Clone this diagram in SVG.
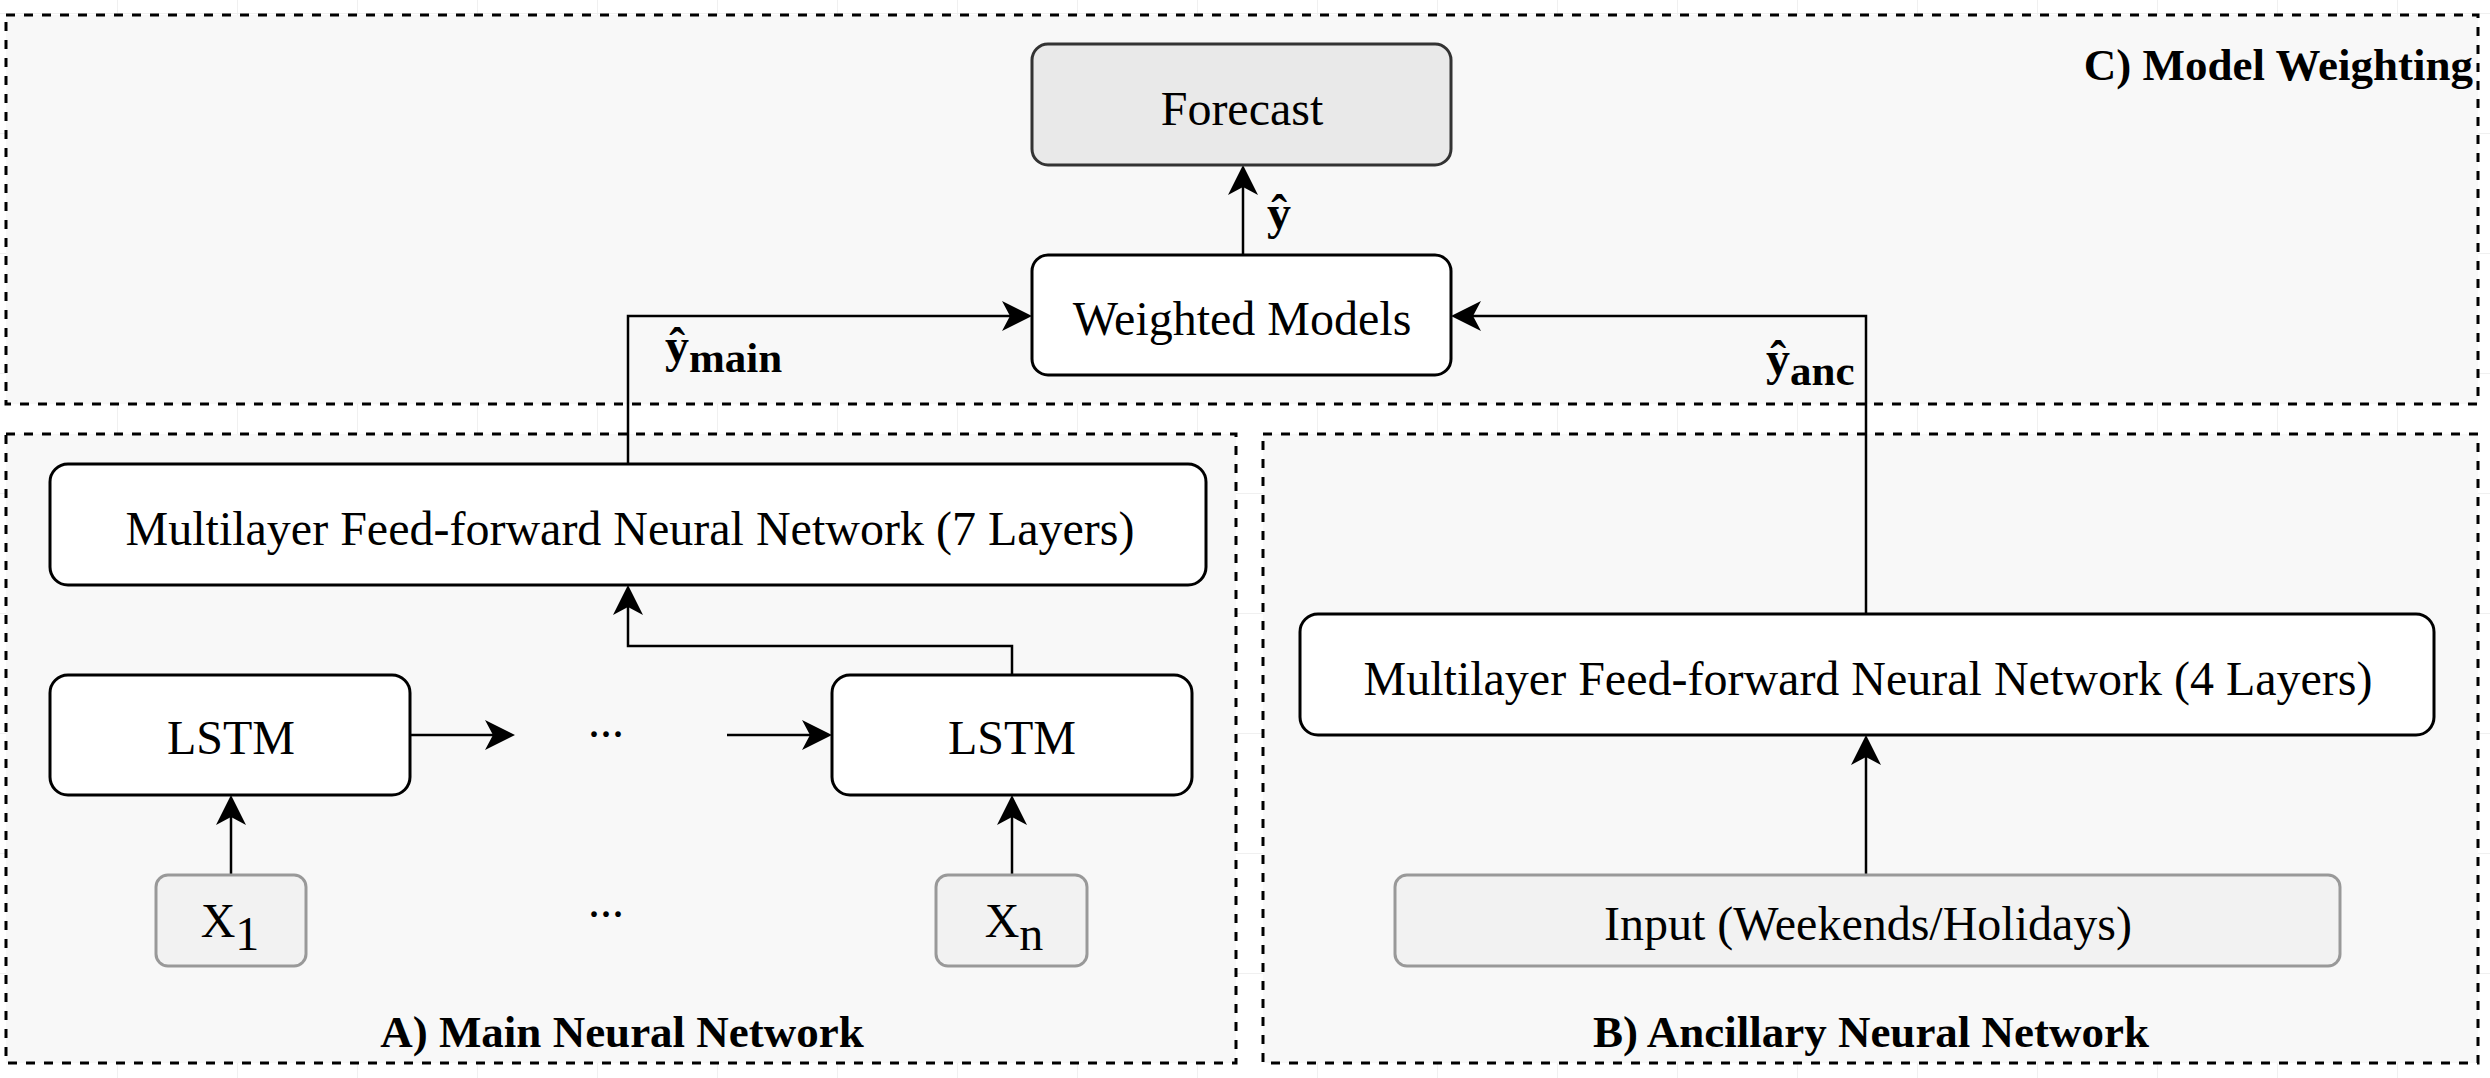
<svg xmlns="http://www.w3.org/2000/svg" width="2490" height="1078" viewBox="0 0 2490 1078">
  <defs>
    <pattern id="grid" x="-3" y="13" width="120" height="120" patternUnits="userSpaceOnUse">
      <path d="M120,0 L0,0 L0,120" fill="none" stroke="#ececec" stroke-width="1.5"/>
    </pattern>
    <marker id="arrow" viewBox="0 0 30 30" refX="8" refY="15" markerWidth="30" markerHeight="30" markerUnits="userSpaceOnUse" orient="auto">
      <path d="M0,0 L30,15 L0,30 L8,15 Z" fill="#000"/>
    </marker>
    <style>
      .panel { fill: #f8f8f8; stroke: #000; stroke-width: 3; stroke-dasharray: 9 9; }
      .box { fill: #ffffff; stroke: #000; stroke-width: 3; }
      .out { fill: #e9e9e9; stroke: #333; stroke-width: 3; }
      .inp { fill: #f2f2f2; stroke: #999; stroke-width: 3; }
      .conn { fill: none; stroke: #000; stroke-width: 2.5; }
      .t { font-family: "Liberation Serif", "Times New Roman", serif; font-size: 48px; fill: #000; }
      .m { text-anchor: middle; }
      .b { font-family: "Liberation Serif", "Times New Roman", serif; font-size: 45px; font-weight: bold; fill: #000; }
      .lbl { font-family: "Liberation Serif", "Times New Roman", serif; font-size: 48px; font-weight: bold; fill: #000; }
    </style>
  </defs>
  <rect x="0" y="0" width="2490" height="1078" fill="#ffffff"/>
  <rect x="0" y="0" width="2490" height="1078" fill="url(#grid)"/>

  <g id="panel-c">
    <rect class="panel" x="6" y="15" width="2472" height="389"/>
    <text class="b" x="2473" y="80" text-anchor="end">C) Model Weighting</text>
  </g>
  <g id="panel-a">
    <rect class="panel" x="6" y="434" width="1230" height="629"/>
    <text class="b m" x="622" y="1047">A) Main Neural Network</text>
  </g>
  <g id="panel-b">
    <rect class="panel" x="1263" y="434" width="1215" height="629"/>
    <text class="b m" x="1871" y="1047">B) Ancillary Neural Network</text>
  </g>

  <g id="connectors">
    <path class="conn" marker-end="url(#arrow)" d="M1243,255 L1243,187"/>
    <path class="conn" marker-end="url(#arrow)" d="M628,464 L628,316 L1010,316"/>
    <path class="conn" marker-end="url(#arrow)" d="M1866,614 L1866,316 L1473,316"/>
    <path class="conn" marker-end="url(#arrow)" d="M1012,675 L1012,646 L628,646 L628,607"/>
    <path class="conn" marker-end="url(#arrow)" d="M410,735 L493,735"/>
    <path class="conn" marker-end="url(#arrow)" d="M727,735 L810,735"/>
    <path class="conn" marker-end="url(#arrow)" d="M231,875 L231,817"/>
    <path class="conn" marker-end="url(#arrow)" d="M1012,875 L1012,817"/>
    <path class="conn" marker-end="url(#arrow)" d="M1866,875 L1866,757"/>
  </g>

  <g id="label-yhat">
    <text class="lbl" x="1267" y="229">ŷ</text>
  </g>
  <g id="label-ymain">
    <text class="lbl" x="665" y="362">ŷ<tspan font-size="43" dy="10">main</tspan></text>
  </g>
  <g id="label-yanc">
    <text class="lbl" x="1766" y="375">ŷ<tspan font-size="43" dy="10">anc</tspan></text>
  </g>

  <g id="forecast">
    <rect class="out" x="1032" y="44" width="419" height="121" rx="16"/>
    <text class="t m" x="1242" y="125">Forecast</text>
  </g>
  <g id="weighted-models">
    <rect class="box" x="1032" y="255" width="419" height="120" rx="16"/>
    <text class="t m" x="1242" y="335">Weighted Models</text>
  </g>
  <g id="mlffn-7">
    <rect class="box" x="50" y="464" width="1156" height="121" rx="18"/>
    <text class="t m" x="630" y="545">Multilayer Feed-forward Neural Network (7 Layers)</text>
  </g>
  <g id="lstm-1">
    <rect class="box" x="50" y="675" width="360" height="120" rx="18"/>
    <text class="t m" x="231" y="754">LSTM</text>
  </g>
  <g id="dots-top">
    <text class="t m" x="606" y="737">...</text>
  </g>
  <g id="lstm-n">
    <rect class="box" x="832" y="675" width="360" height="120" rx="18"/>
    <text class="t m" x="1012" y="754">LSTM</text>
  </g>
  <g id="x-1">
    <rect class="inp" x="156" y="875" width="150" height="91" rx="12"/>
    <text class="t m" x="230" y="937">X<tspan dy="13">1</tspan></text>
  </g>
  <g id="dots-bottom">
    <text class="t m" x="606" y="917">...</text>
  </g>
  <g id="x-n">
    <rect class="inp" x="936" y="875" width="151" height="91" rx="12"/>
    <text class="t m" x="1014" y="937">X<tspan dy="13">n</tspan></text>
  </g>
  <g id="mlffn-4">
    <rect class="box" x="1300" y="614" width="1134" height="121" rx="18"/>
    <text class="t m" x="1868" y="695">Multilayer Feed-forward Neural Network (4 Layers)</text>
  </g>
  <g id="input">
    <rect class="inp" x="1395" y="875" width="945" height="91" rx="12"/>
    <text class="t m" x="1868" y="940">Input (Weekends/Holidays)</text>
  </g>
</svg>
